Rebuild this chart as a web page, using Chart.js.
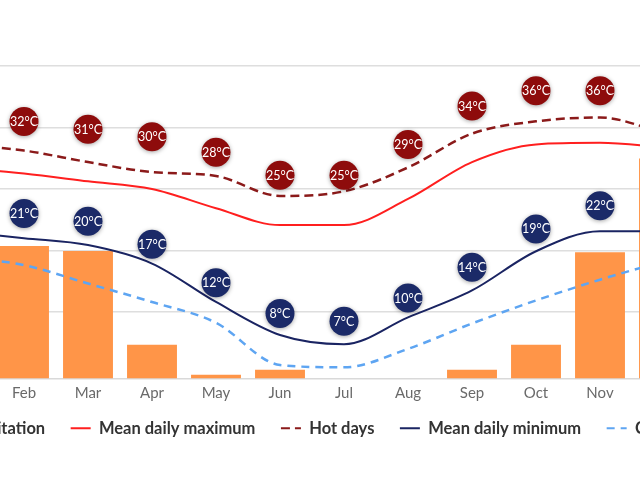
<!DOCTYPE html>
<html>
<head>
<meta charset="utf-8">
<script src="https://cdn.jsdelivr.net/npm/chart.js@4.4.1/dist/chart.umd.min.js"></script>
<style>
  html, body { margin: 0; padding: 0; background: #ffffff; overflow: hidden; width: 640px; height: 480px; }
  #wrap { position: absolute; left: -200px; top: 0; width: 1040px; height: 480px; }
</style>
</head>
<body>
<div id="wrap"><canvas id="c"></canvas></div>
<script>
const months = ['Jan','Feb','Mar','Apr','May','Jun','Jul','Aug','Sep','Oct','Nov','Dec'];
const precipitation = [150, 106, 102, 27, 3, 7, 0, 0, 7, 27, 101, 176];
const meanMax = [26.8, 26.0, 25.0, 24.0, 21.5, 19.3, 19.3, 22.7, 27.5, 29.8, 30.0, 29.4];
const hotDays = [29.8, 29.0, 27.5, 26.2, 25.7, 23.1, 23.7, 26.8, 31.2, 32.8, 33.3, 31.3];
const meanMin = [18.5, 17.6, 16.7, 14.3, 9.3, 5.0, 3.8, 7.3, 10.8, 15.9, 18.5, 18.5];
const coldNights = [15.2, 14.1, 11.7, 9.3, 6.6, 1.1, 0.8, 3.2, 6.5, 9.5, 12.2, 14.6];
const maxBubbles = [33, 32, 31, 30, 28, 25, 25, 29, 34, 36, 36, 35];
const minBubbles = [21, 21, 20, 17, 12, 8, 7, 10, 14, 19, 22, 22];
const tempGridTicks = [8, 16, 24, 32, 40];

const bubblePlugin = {
  id: 'bubbles',
  afterLayout(chart) {
    if (chart.legend) { chart.legend.top -= 14; chart.legend.bottom -= 14; }
  },
  afterDatasetsDraw(chart) {
    const ctx = chart.ctx;
    const xs = chart.scales.x, ys = chart.scales.y1;
    const groups = [
      { vals: maxBubbles, color: '#8e0c0c', dy: -6 },
      { vals: minBubbles, color: '#1b2a68', dy: 1.5 }
    ];
    ctx.save();
    groups.forEach(g => {
      g.vals.forEach((v, i) => {
        const x = xs.getPixelForValue(i);
        const y = ys.getPixelForValue(v) + g.dy;
        ctx.save();
        ctx.shadowColor = 'rgba(0,0,0,0.35)';
        ctx.shadowBlur = 4;
        ctx.shadowOffsetY = 1;
        ctx.beginPath();
        ctx.arc(x, y, 14.5, 0, Math.PI * 2);
        ctx.fillStyle = g.color;
        ctx.fill();
        ctx.restore();
        ctx.fillStyle = '#ffffff';
        ctx.font = '12.5px Lato';
        ctx.textAlign = 'center';
        ctx.textBaseline = 'middle';
        ctx.fillText(v + '°C', x, y + 0.5);
      });
    });
    ctx.restore();
  }
};

new Chart(document.getElementById('c'), {
  type: 'bar',
  data: {
    labels: months,
    datasets: [
      { type: 'bar', label: 'Precipitation', data: precipitation, yAxisID: 'y',
        backgroundColor: '#ff9548', borderWidth: 0, order: 5,
        categoryPercentage: 1.0, barPercentage: 0.78 },
      { type: 'line', label: 'Mean daily maximum', data: meanMax, yAxisID: 'y1',
        borderColor: '#ff1f1f', backgroundColor: '#ff1f1f', borderWidth: 2,
        pointRadius: 0, cubicInterpolationMode: 'monotone', order: 1 },
      { type: 'line', label: 'Hot days', data: hotDays, yAxisID: 'y1',
        borderColor: '#8b1a1a', backgroundColor: '#8b1a1a', borderWidth: 2.5, borderDash: [9, 5],
        pointRadius: 0, cubicInterpolationMode: 'monotone', order: 2 },
      { type: 'line', label: 'Mean daily minimum', data: meanMin, yAxisID: 'y1',
        borderColor: '#1a2462', backgroundColor: '#1a2462', borderWidth: 2,
        pointRadius: 0, cubicInterpolationMode: 'monotone', order: 3 },
      { type: 'line', label: 'Cold nights', data: coldNights, yAxisID: 'y1',
        borderColor: '#5ea5f2', backgroundColor: '#5ea5f2', borderWidth: 2.5, borderDash: [8, 6],
        pointRadius: 0, cubicInterpolationMode: 'monotone', order: 4 }
    ]
  },
  options: {
    responsive: true,
    maintainAspectRatio: false,
    animation: false,
    devicePixelRatio: 1,
    layout: { padding: { left: 0, right: 0, top: 66, bottom: 19.5 } },
    scales: {
      x: {
        grid: { display: false, drawTicks: false },
        border: { display: true, color: '#d9d9d9', width: 1.5 },
        ticks: { color: '#6a6a6a', font: { family: 'Lato', size: 15 }, padding: 6 }
      },
      y: {
        position: 'right', min: 0, max: 250,
        grid: { display: false, drawTicks: false },
        border: { display: false },
        ticks: { display: false },
        afterFit(scale) { scale.width = 144; }
      },
      y1: {
        position: 'left', min: -0.656, max: 40,
        grid: { color: '#dedede', lineWidth: 1.5, drawTicks: false },
        border: { display: false },
        ticks: { display: false },
        afterBuildTicks(scale) { scale.ticks = tempGridTicks.map(v => ({ value: v })); },
        afterFit(scale) { scale.width = 128; }
      }
    },
    plugins: {
      legend: {
        position: 'bottom',
        labels: {
          usePointStyle: true,
          pointStyleWidth: 20,
          boxHeight: 12,
          padding: 25.5,
          color: '#333333',
          font: { family: 'Lato', size: 16.5, weight: 'bold' },
          sort: (a, b) => a.datasetIndex - b.datasetIndex,
          generateLabels(chart) {
            return chart.data.datasets.map((ds, i) => ({
              text: ds.label,
              datasetIndex: i,
              fillStyle: ds.type === 'bar' ? ds.backgroundColor : 'transparent',
              strokeStyle: ds.type === 'bar' ? ds.backgroundColor : ds.borderColor,
              lineWidth: ds.type === 'bar' ? 0 : 2,
              lineDash: ds.borderDash || [],
              pointStyle: ds.type === 'bar' ? 'rect' : 'line',
              hidden: false,
              fontColor: '#333333'
            }));
          }
        }
      },
      tooltip: { enabled: false }
    }
  },
  plugins: [bubblePlugin]
});
</script>
</body>
</html>
